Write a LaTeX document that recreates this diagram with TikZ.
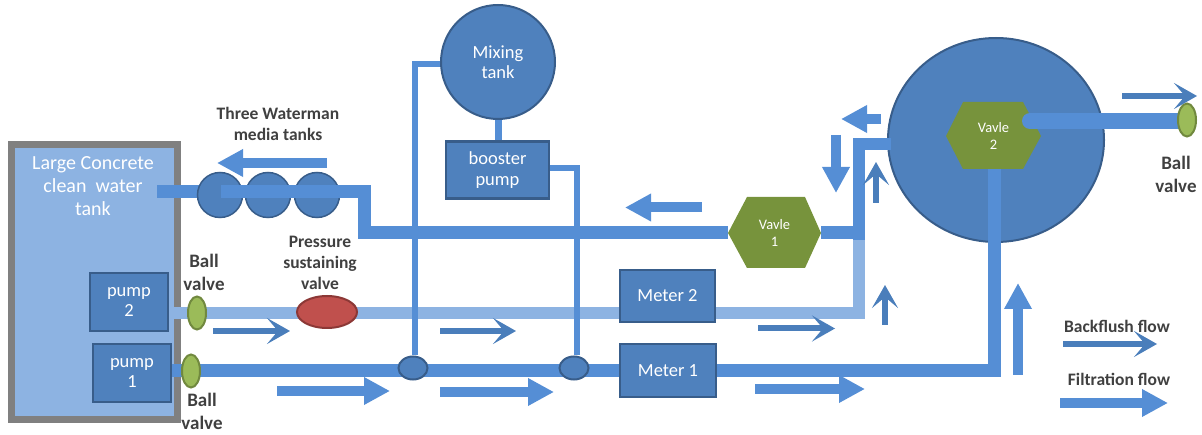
\documentclass[tikz,border=0pt]{standalone}
\usepackage{fontspec}
\setmainfont{Carlito}
\usetikzlibrary{arrows.meta,shapes.geometric}
\definecolor{pipeblue}{HTML}{558ED5}
\definecolor{lightpipe}{HTML}{8DB3E2}
\definecolor{boxblue}{HTML}{4F81BD}
\definecolor{boxedge}{HTML}{385D8A}
\definecolor{flowblue}{HTML}{4A7EBB}
\definecolor{olive}{HTML}{77933C}
\definecolor{ballfill}{HTML}{9BBB59}
\definecolor{balledge}{HTML}{71893F}
\definecolor{redfill}{HTML}{C0504D}
\definecolor{rededge}{HTML}{8C3836}
\definecolor{labelgrey}{HTML}{404040}
\tikzset{
  x=1pt,y=-1pt,
  pipe/.style={draw=pipeblue,line width=13pt},
  lightline/.style={draw=lightpipe,line width=12pt},
  thinpipe/.style={draw=pipeblue,line width=6pt},
  boxnode/.style={rectangle,draw=boxedge,fill=boxblue,line width=2.5pt,text=white,inner sep=0pt,align=center,font=\fontsize{18.5}{20.5}\selectfont},
  tanknode/.style={circle,draw=boxedge,fill=boxblue,line width=2pt,inner sep=0pt,align=center,text=white,font=\fontsize{18.5}{20.5}\selectfont},
  joint/.style={ellipse,draw=boxedge,fill=boxblue,line width=2pt,inner sep=0pt,minimum width=29pt,minimum height=23pt},
  medianode/.style={circle,draw=boxedge,fill=boxblue,line width=1.5pt,inner sep=0pt,minimum size=45pt},
  ballnode/.style={ellipse,draw=balledge,fill=ballfill,line width=2pt,inner sep=0pt,minimum width=18pt,minimum height=33pt},
  hexfill/.style={fill=olive},
  hexnode/.style={rectangle,inner sep=0pt,align=center,text=white,font=\fontsize{14.5}{17}\selectfont},
  lbl/.style={align=center,text=labelgrey,inner sep=0pt,font=\bfseries\fontsize{17.5}{21}\selectfont},
  ballbl/.style={align=center,text=labelgrey,inner sep=0pt,font=\bfseries\fontsize{19}{23}\selectfont},
  fatflow/.style={draw=pipeblue,line width=10pt,-{Triangle[length=26pt,width=26pt]}},
  thinflow/.style={draw=flowblue,line width=6pt,-{Stealth[length=23pt,width=26pt,inset=11pt]}},
}
\begin{document}
\begin{tikzpicture}
\useasboundingbox (0,0) rectangle (1202,435);
% named points
\coordinate (tankout) at (157,191.5);
\coordinate (mediaout) at (221,191.5);
\coordinate (drop) at (364,191.5);
\coordinate (c1) at (994.5,371);
\coordinate (c2) at (859,313);
\coordinate (c3) at (859,233);
\coordinate (c4) at (859,144);
\coordinate (bigin) at (891,144);
\coordinate (thinL) at (415,64);
\coordinate (thinR) at (576.5,168);
\coordinate (j1top) at (415,355);
\coordinate (j2top) at (576.5,355);
\coordinate (outA) at (1030,121);
\coordinate (outB) at (1180,121);
\coordinate (a1) at (217,163);   \coordinate (a1s) at (327,163);
\coordinate (b1s) at (213,331);  \coordinate (b1) at (290,331);
\coordinate (a2s) at (277,391);  \coordinate (a2) at (390,391);
\coordinate (b2s) at (440,331);  \coordinate (b2) at (516,331);
\coordinate (a3s) at (440,392);  \coordinate (a3) at (554,392);
\coordinate (a4s) at (702,207.5);\coordinate (a4) at (625,207.5);
\coordinate (b3s) at (758,328.5);\coordinate (b3) at (835,328.5);
\coordinate (a5s) at (755,389);  \coordinate (a5) at (865,389);
\coordinate (a6s) at (881,119);  \coordinate (a6) at (841,119);
\coordinate (a7s) at (836,135);  \coordinate (a7) at (836,193);
\coordinate (b4s) at (876,203);  \coordinate (b4) at (876,162);
\coordinate (b5s) at (885,325);  \coordinate (b5) at (885,285);
\coordinate (a8s) at (1018,375); \coordinate (a8) at (1018,283);
\coordinate (b6s) at (1122,96);  \coordinate (b6) at (1197,96);
\coordinate (b7s) at (1063,344); \coordinate (b7) at (1157,344);
\coordinate (a9s) at (1060,403); \coordinate (a9) at (1168,403);

% concrete tank
\node[draw=black!50,fill=lightpipe,line width=7.5pt,rectangle,minimum width=166pt,minimum height=274.5pt,inner sep=0pt] (tank) at (94.25,282) {};
\node[inner sep=0pt,align=center,text=white,font=\fontsize{20}{23}\selectfont] (tanktext) at (93,186) {Large Concrete\\clean\ \ water\\tank};
\node[boxnode,minimum width=78pt,minimum height=58pt] (pump2) at (129,302) {pump\\2};
\node[boxnode,minimum width=78pt,minimum height=58pt] (pump1) at (132,373) {pump\\1};

% big filter tank and mixing tank
\node[ellipse,draw=boxedge,fill=boxblue,line width=2pt,inner sep=0pt,minimum width=216pt,minimum height=204pt] (big) at (996,140) {};
\node[tanknode,minimum size=114pt] (mix) at (498,62) {Mixing\\tank};
\node[boxnode,minimum width=103pt,minimum height=57pt] (booster) at (497.5,170) {booster\\pump};

% hexagon valves
\fill[hexfill] (728,233) -- (747,197) -- (805,197) -- (821,233) -- (805,268) -- (747,268) -- cycle;
\node[hexnode,minimum width=93pt,minimum height=71pt] (v1) at (774.5,233) {Vavle\\1};
\fill[hexfill] (946,136) -- (963,102) -- (1023,102) -- (1041,136) -- (1023,169) -- (963,169) -- cycle;
\node[hexnode,minimum width=95pt,minimum height=67pt] (v2) at (993.5,135.5) {Vavle\\2};

% light pipe from pump 2
\draw[lightline,line join=miter] (pump2.east |- c2) -- (c2) -- (c3);
% backwash pipe
\draw[pipe] (tankout) -- (mediaout);
\node[medianode] (m1) at (220,195) {};
\node[medianode] (m2) at (268,195) {};
\node[medianode] (m3) at (317,195) {};
\draw[pipe,line join=miter] (mediaout) -- (drop) |- (v1.west);
\draw[pipe] (v1.east) -- ([xshift=6pt]c3);
\draw[pipe,line width=12pt,line join=miter] ([yshift=-7pt]c3) -- (c4) -- (bigin);
% pump 1 line
\draw[pipe,line join=miter] (pump1.east |- c1) -- (c1) -- (c1 |- v2.south);
% valve 2 outlet
\draw[pipe,line width=16pt,line cap=round] (outA) -- ([xshift=-30pt]outB);
\draw[pipe,line width=16pt] ([xshift=-30pt]outB) -- (outB);

% thin lines
\draw[thinpipe,line join=miter] (mix.west |- thinL) -- (thinL) -- (j1top);
\draw[thinpipe,line join=miter] (booster.east |- thinR) -- (thinR) -- (j2top);
\draw[pipeblue,line width=7pt] (mix.south) -- (mix.south |- booster.north);
\node[joint] (j1) at (413,368) {};
\node[joint] (j2) at (574,368) {};

% meters
\node[boxnode,minimum width=95pt,minimum height=52pt] (meter2) at (667.5,296) {Meter 2};
\node[boxnode,minimum width=96pt,minimum height=53pt] (meter1) at (668,370.5) {Meter 1};

% valves on the lines
\node[ballnode] (bv2) at (197,313) {};
\node[ballnode] (bv1) at (191,371) {};
\node[ballnode] (bv3) at (1187,120) {};
\node[ellipse,draw=rededge,fill=redfill,line width=2pt,inner sep=0pt,minimum width=60pt,minimum height=32pt] (prv) at (327,312) {};

% flow arrows
\draw[fatflow] (a1s) -- (a1);
\draw[fatflow] (a2s) -- (a2);
\draw[fatflow] (a3s) -- (a3);
\draw[fatflow] (a4s) -- (a4);
\draw[fatflow] (a5s) -- (a5);
\draw[fatflow] (a6s) -- (a6);
\draw[fatflow] (a7s) -- (a7);
\draw[fatflow] (a8s) -- (a8);
\draw[fatflow] (a9s) -- (a9);
\draw[thinflow] (b1s) -- (b1);
\draw[thinflow] (b2s) -- (b2);
\draw[thinflow] (b3s) -- (b3);
\draw[thinflow] (b4s) -- (b4);
\draw[thinflow] (b5s) -- (b5);
\draw[thinflow] (b6s) -- (b6);
\draw[thinflow] (b7s) -- (b7);

% labels
\node[lbl] (l1) at (278,123.5) {Three Waterman\\media tanks};
\node[lbl] (l2) at (320,263) {Pressure\\sustaining\\valve};
\node[ballbl] (l3) at (204,272.5) {Ball\\valve};
\node[ballbl] (l4) at (202,411.5) {Ball\\valve};
\node[ballbl] (l5) at (1176,174) {Ball\\valve};
\node[lbl] (l6) at (1117,326) {Backflush flow};
\node[lbl] (l7) at (1119,379) {Filtration flow};
\end{tikzpicture}
\end{document}
